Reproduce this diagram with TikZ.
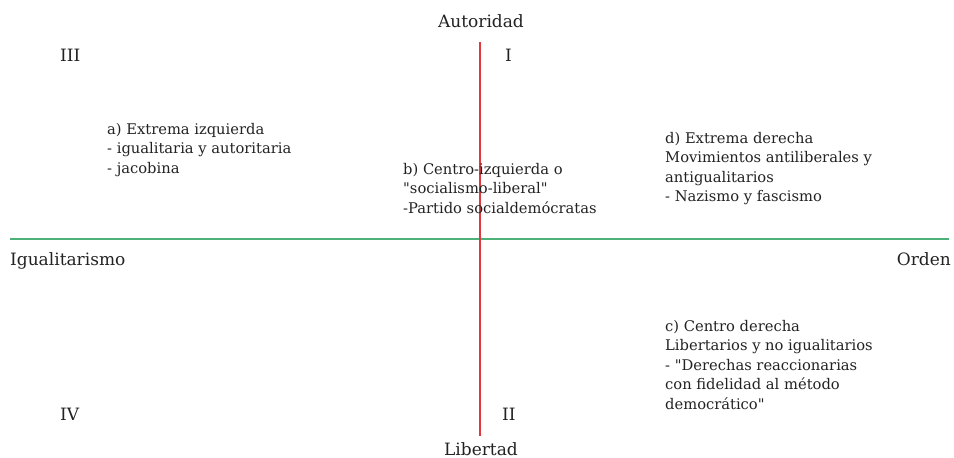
\documentclass[tikz,border=0pt]{standalone}
\usepackage{fontspec}
\setmainfont{DejaVu Serif}[Ligatures=TeXOff]
\usepackage{tikz}
\usetikzlibrary{positioning}
\definecolor{axisred}{HTML}{E0393E}
\definecolor{axisgreen}{HTML}{4DB27A}
\definecolor{textgray}{HTML}{222222}
\tikzset{
    lbl/.style={
        inner sep=0pt, text=textgray,
        font=\fontsize{17}{19.5}\selectfont
    },
    % base of a multi-line node is its last line
    blk/.style={
        lbl, align=left, anchor=base west,
        font=\fontsize{14.7}{19.5}\selectfont
    },
    vaxis/.style={draw=axisred, line width=1.2pt},
    haxis/.style={draw=axisgreen, line width=1.4pt},
}
\begin{document}
\begin{tikzpicture}[x=1pt, y=-1pt]
        \useasboundingbox (0,0) rectangle (954,458);

        \coordinate (vtop) at (480,42);
        \coordinate (vbot) at (480,436);
        \coordinate (hleft) at (10,239);
        \coordinate (hright) at (949,239);

        \draw[haxis] (hleft) -- (hright);
        \draw[vaxis] (vtop) -- (vbot);

        \node[lbl, anchor=base] (aut) at (481,27) {Autoridad};
        \node[lbl, anchor=base] (lib) at (481,455.5) {Libertad};
        \node[lbl, anchor=base west] (igu) at (10,265) {Igualitarismo};
        \node[lbl, anchor=base east] (ord) at (951,265) {Orden};

        \node[lbl, anchor=base west] (q3) at (60,61) {III};
        \node[lbl, anchor=base west] (q1) at (505,61) {I};
        \node[lbl, anchor=base west] (q4) at (60,420) {IV};
        \node[lbl, anchor=base west] (q2) at (502,420) {II};

        \node[blk] (a) at (107,173) {a) Extrema izquierda\\- igualitaria y autoritaria\\- jacobina};
        \node[blk] (b) at (403,213) {b) Centro-izquierda o\\"socialismo-liberal"\\-Partido socialdemócratas};
        \node[blk] (d) at (665,201.5) {d) Extrema derecha\\Movimientos antiliberales y\\antigualitarios\\- Nazismo y fascismo};
        \node[blk] (c) at (665,409) {c) Centro derecha\\Libertarios y no igualitarios\\- "Derechas reaccionarias\\con fidelidad al método\\democrático"};
    \end{tikzpicture}
\end{document}
